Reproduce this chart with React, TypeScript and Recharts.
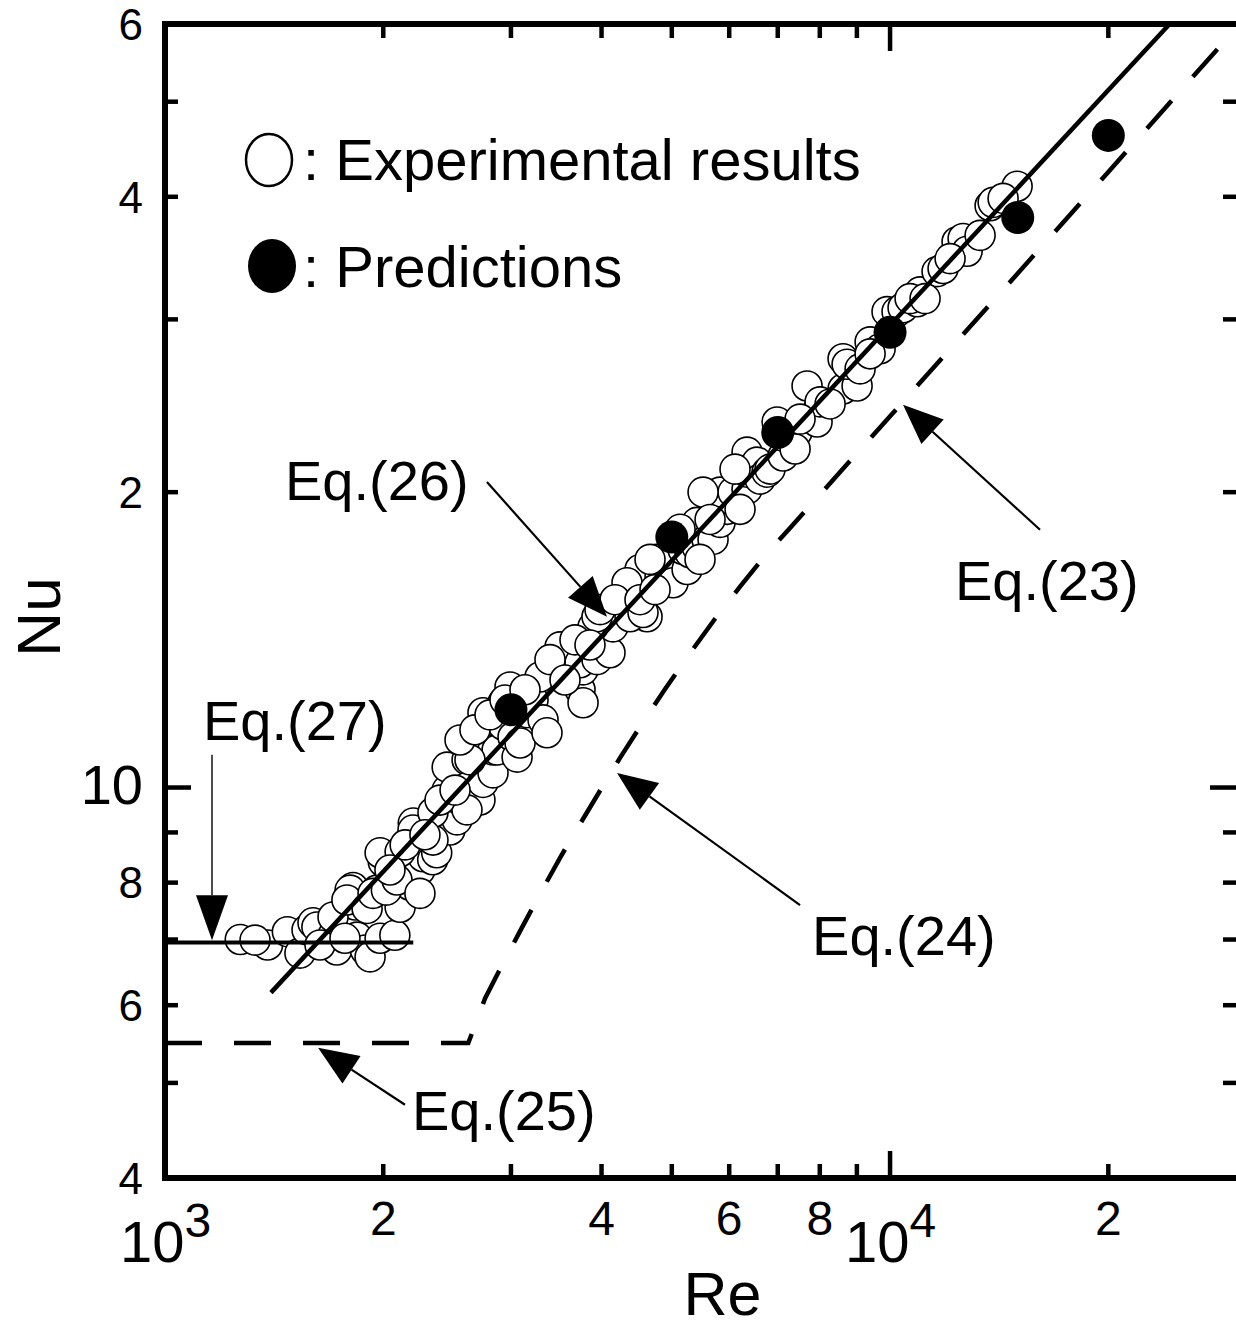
import React from 'react';
import {
  ComposedChart,
  XAxis,
  YAxis,
  Scatter,
  Line,
  ReferenceLine,
  ReferenceDot,
  Legend,
} from 'recharts';

const FONT = '"Liberation Sans", Arial, Helvetica, sans-serif';

// ---------- data (Re, Nu) ----------
const expRe = [
  1270, 1385, 1475, 1535, 1570, 1600, 1620, 1705, 1725, 1790, 1830, 1840, 1890, 1918, 1980, 2075,
  1817, 1800, 1960, 2000, 1980, 2090, 2110, 2130, 2177, 2200, 2247, 2200, 2247, 2270, 2340, 2340,
  2370, 2450, 2472, 2450, 2450, 2528, 2552, 2610, 2610, 2634, 2693, 2719, 2745, 2834, 2834, 2745,
  2871, 2926, 2991, 2926, 3020, 3059, 3088, 3158, 3218, 3322, 3364, 3290, 3540, 3506, 3736, 3772,
  3772, 3736, 3943, 4109, 4148, 3893, 3943, 3981, 4379, 4622, 4520, 4379, 4563, 4337, 4817, 4771,
  4925, 5020, 5249, 5182, 5298, 5417, 5417, 5592, 5700, 5773, 5828, 5959, 6016, 5828, 6074, 5522,
  6350, 6350, 6350, 6411, 6555, 6618, 6766, 6831, 6985, 7120, 7120, 7279, 7443, 7683, 7931, 7931,
  8007, 8614, 8614, 9006, 8724, 9386, 9689, 9905, 10225, 10422, 10896, 11000, 11610, 11834, 12372,
  12611, 12772, 13310, 13740, 13872, 14970, 1705, 1782, 1900, 1936, 2020, 2110, 2089, 2247, 2342,
  2198, 2342, 2609, 2043, 2144, 2283, 2395, 2512, 2634, 2552, 2676, 2807, 2944, 3137, 3396, 3562,
  3677, 3856, 4175, 4520, 4741, 4666, 5133, 5469, 5646, 6112, 6210, 7396, 7514, 8266, 9092, 9386,
  10656, 11176, 12100, 14319, 1331, 1636, 1771,
];
const expNu = [
  7.0, 6.91, 7.13, 6.78, 7.16, 7.28, 7.21, 7.07, 6.83, 7.33, 7.59, 7.04, 6.83, 6.72, 7.02, 7.07,
  7.91, 7.86, 7.86, 8.4, 8.58, 8.11, 7.55, 8.3, 7.95, 8.44, 8.24, 9.2, 8.7, 8.5, 9.27, 8.44,
  8.58, 9.49, 9.05, 9.94, 10.49, 9.27, 9.71, 10.67, 10.0, 9.71, 11.1, 9.71, 10.12, 10.35, 10.92, 11.92,
  10.92, 11.58, 12.66, 12.2, 11.26, 10.74, 11.1, 11.92, 12.28, 11.72, 11.37, 12.96, 13.5, 13.91, 12.58, 12.2,
  13.18, 13.4, 13.5, 13.72, 14.58, 14.58, 14.93, 15.18, 15.91, 14.93, 16.68, 14.93, 15.08, 16.17, 16.41, 17.08,
  17.08, 16.17, 16.68, 17.48, 17.35, 17.61, 18.63, 17.9, 17.9, 18.9, 18.63, 19.21, 19.67, 20.0, 20.0, 20.0,
  20.14, 20.96, 21.97, 21.11, 21.46, 20.62, 20.96, 21.11, 23.58, 21.77, 22.81, 22.81, 23.03, 25.66, 24.14, 23.58,
  24.72, 25.48, 27.35, 25.66, 27.0, 28.46, 28.0, 30.55, 30.55, 30.83, 31.27, 32.0, 33.56, 33.8, 36.0,
  36.27, 35.2, 36.54, 39.17, 39.48, 41.0, 7.38, 7.68, 7.53, 7.8, 7.86, 8.6, 8.05, 7.8, 8.84,
  9.05, 9.43, 9.49, 8.24, 8.74, 8.95, 9.71, 9.94, 10.67, 11.18, 11.45, 11.86, 12.28, 12.58, 13.5, 12.87,
  14.14, 13.97, 15.54, 15.54, 15.91, 17.08, 18.33, 17.08, 18.76, 21.11, 19.21, 22.13, 23.74, 24.6, 26.71, 27.67,
  31.5, 31.5, 34.6, 39.85, 6.99, 6.91, 7.02,
];

const predRe = [3000, 5000, 7000, 10000, 15000, 20000];
const predNu = [12.0, 18.0, 23.0, 29.1, 38.1, 46.2];

// Eq.(26): solid correlation line
const eq26Re = [1400, 24300];
const eq26Nu = [6.18, 60];
// Eq.(27): solid horizontal line
const eq27Re = [1000, 2200];
const eq27Nu = [6.95, 6.95];
// Eq.(25) + Eq.(24) + Eq.(23): dashed line
const eq25Re = [1000, 2620];
const eq25Nu = [5.49, 5.49];
const eq24Re = [2764, 2898, 3088, 3290, 3506, 3736, 3956, 4242, 4563, 4895, 5265, 5736, 6210, 6723, 7279];
const eq24Nu = [6.1, 6.53, 7.14, 7.79, 8.48, 9.18, 9.85, 10.72, 11.66, 12.6, 13.62, 14.86, 16.02, 17.23, 18.39];
const eq23Re = [10000, 20000, 30000];
const eq23Nu = [23.9, 42.4, 59.4];

// ---------- axes ----------
const xDomain = [1000, 30000];
const yDomain = [4, 60];
const xMinorTicks = [2000, 3000, 4000, 5000, 6000, 7000, 8000, 9000, 20000];
const xMajorTicks = [10000];
const yMinorTicks = [5, 6, 7, 8, 9, 20, 30, 40, 50];
const yMajorTicks = [10];
const xLabelValues = [1000, 2000, 4000, 6000, 8000, 10000, 20000];
const xLabelTexts = ['10', '2', '4', '6', '8', '10', '2'];
const xLabelSups = ['3', '', '', '', '', '4', ''];
const yLabelValues = [4, 6, 8, 10, 20, 40, 60];
const yLabelTexts = ['4', '6', '8', '10', '2', '4', '6'];

// ---------- annotations ----------
const annLabels = ['Eq.(26)', 'Eq.(27)', 'Eq.(25)', 'Eq.(24)', 'Eq.(23)'];
const annLabelRe = [1464, 1128, 2191, 7806, 12290];
const annLabelNu = [19.64, 11.18, 4.48, 6.75, 15.54];
const annTailRe = [2780, 1161, 2143, 7514, 16100];
const annTailNu = [20.48, 10.8, 4.75, 7.59, 18.31];
const annTipRe = [4070, 1161, 1626, 4202, 10420];
const annTipNu = [14.93, 6.99, 5.43, 10.35, 24.55];
const annShaftWidth = [2.2, 1.4, 2.2, 2.2, 2.2];

const zip = (xs: number[], ys: number[]) => xs.map((x, i) => ({ x, y: ys[i] }));

const expData = zip(expRe, expNu);
const predData = zip(predRe, predNu);
const eq26Data = zip(eq26Re, eq26Nu);
const eq27Data = zip(eq27Re, eq27Nu);
const dashedData = [...zip(eq25Re, eq25Nu), ...zip(eq24Re, eq24Nu), ...zip(eq23Re, eq23Nu)];

// ---------- renderers ----------
const OpenDot = (p: any) =>
  p.cx == null ? null : (
    <circle cx={p.cx} cy={p.cy} r={15} fill="#fff" stroke="#000" strokeWidth={1.6} />
  );
const FilledDot = (p: any) =>
  p.cx == null ? null : <circle cx={p.cx} cy={p.cy} r={16.5} fill="#000" />;

const XTick = (props: any) => {
  const { x, y, payload } = props;
  const i = xLabelValues.indexOf(payload.value);
  if (i < 0) return null;
  if (xLabelSups[i]) {
    return (
      <text x={x - 45} y={y + 84} fontSize={58} fontFamily={FONT} fill="#000">
        {xLabelTexts[i]}
        <tspan dy={-25} fontSize={48}>
          {xLabelSups[i]}
        </tspan>
      </text>
    );
  }
  return (
    <text x={x} y={y + 57} textAnchor="middle" fontSize={48} fontFamily={FONT} fill="#000">
      {xLabelTexts[i]}
    </text>
  );
};

const YTick = (props: any) => {
  const { x, y, payload } = props;
  const i = yLabelValues.indexOf(payload.value);
  if (i < 0) return null;
  const big = yLabelTexts[i] === '10';
  const fs = big ? 56 : 44;
  return (
    <text
      x={x - 22}
      y={y + fs * 0.36 - (big ? 4 : 0)}
      textAnchor="end"
      fontSize={fs}
      fontFamily={FONT}
      fill="#000"
    >
      {yLabelTexts[i]}
    </text>
  );
};

const vTickShape = (len: number) => (p: any) => {
  const top = Math.min(p.y1, p.y2);
  const bot = Math.max(p.y1, p.y2);
  return (
    <g>
      <line x1={p.x1} y1={top} x2={p.x1} y2={top + len} stroke="#000" strokeWidth={4.5} />
      <line x1={p.x1} y1={bot - len} x2={p.x1} y2={bot} stroke="#000" strokeWidth={4.5} />
    </g>
  );
};
const hTickShape = (len: number) => (p: any) => {
  const l = Math.min(p.x1, p.x2);
  const r = Math.max(p.x1, p.x2);
  return (
    <g>
      <line x1={l} y1={p.y1} x2={l + len} y2={p.y1} stroke="#000" strokeWidth={4.5} />
      <line x1={r - len} y1={p.y1} x2={r} y2={p.y1} stroke="#000" strokeWidth={4.5} />
    </g>
  );
};

const arrowShape = (sw: number, headLen: number, halfW: number) => (p: any) => {
  const { x1, y1, x2, y2 } = p;
  const dx = x2 - x1;
  const dy = y2 - y1;
  const len = Math.hypot(dx, dy) || 1;
  const ux = dx / len;
  const uy = dy / len;
  const bx = x2 - ux * headLen;
  const by = y2 - uy * headLen;
  const px = -uy;
  const py = ux;
  return (
    <g>
      <line x1={x1} y1={y1} x2={bx} y2={by} stroke="#000" strokeWidth={sw} />
      <polygon
        points={`${x2},${y2} ${bx + px * halfW},${by + py * halfW} ${bx - px * halfW},${by - py * halfW}`}
        fill="#000"
      />
    </g>
  );
};

const textShape = (t: string) => (p: any) =>
  p.cx == null ? null : (
    <text x={p.cx} y={p.cy} fontSize={56} fontFamily={FONT} fill="#000">
      {t}
    </text>
  );

const LegendContent = () => (
  <svg width={660} height={190} style={{ display: 'block', overflow: 'visible' }}>
    <ellipse cx={39} cy={40} rx={23} ry={26} fill="#fff" stroke="#000" strokeWidth={2.5} />
    <text x={73} y={60} fontSize={58} fontFamily={FONT} fill="#000">
      : Experimental results
    </text>
    <ellipse cx={42} cy={146} rx={24} ry={27} fill="#000" />
    <text x={73} y={167} fontSize={58} fontFamily={FONT} fill="#000">
      : Predictions
    </text>
  </svg>
);

const NuLabel = (p: any) => {
  const vb = p.viewBox || { x: 0, y: 24, width: 165, height: 1154 };
  const cx = vb.x + 38;
  const cy = vb.y + vb.height / 2 + 16;
  return (
    <text
      x={cx}
      y={cy}
      transform={`rotate(-90, ${cx}, ${cy})`}
      textAnchor="middle"
      dominantBaseline="central"
      fontSize={62}
      fontFamily={FONT}
      fill="#000"
    >
      Nu
    </text>
  );
};

const ReLabel = (p: any) => {
  const vb = p.viewBox || { x: 165, y: 1178, width: 1071, height: 150 };
  return (
    <text
      x={vb.x + vb.width / 2 + 22}
      y={vb.y + 137}
      textAnchor="middle"
      fontSize={61}
      fontFamily={FONT}
      fill="#000"
    >
      Re
    </text>
  );
};

export default function App() {
  return (
    <div
      style={{
        position: 'absolute',
        left: 0,
        top: 0,
        width: 1236,
        height: 1328,
        overflow: 'hidden',
        background: '#fff',
        fontFamily: FONT,
      }}
    >
      <ComposedChart width={1236} height={1328} margin={{ top: 24, right: 0, bottom: 0, left: 0 }}>
        <XAxis
          dataKey="x"
          type="number"
          scale="log"
          domain={xDomain}
          allowDataOverflow
          ticks={xLabelValues}
          interval={0}
          tickSize={0}
          tickMargin={0}
          tickLine={false}
          tick={<XTick />}
          height={150}
          axisLine={{ stroke: '#000', strokeWidth: 6, strokeLinecap: 'square' }}
          label={{ content: <ReLabel /> } as any}
        />
        <YAxis
          dataKey="y"
          type="number"
          scale="log"
          domain={yDomain}
          allowDataOverflow
          ticks={yLabelValues}
          interval={0}
          tickSize={0}
          tickMargin={0}
          tickLine={false}
          tick={<YTick />}
          width={165}
          axisLine={{ stroke: '#000', strokeWidth: 6, strokeLinecap: 'square' }}
          label={{ content: <NuLabel /> } as any}
        />

        {/* top axis line */}
        <ReferenceLine y={60} stroke="#000" strokeWidth={6} ifOverflow="visible" />

        {/* tick marks on all four sides */}
        {xMinorTicks.map((v) => (
          <ReferenceLine key={`xm${v}`} x={v} ifOverflow="visible" shape={vTickShape(14)} />
        ))}
        {xMajorTicks.map((v) => (
          <ReferenceLine key={`xM${v}`} x={v} ifOverflow="visible" shape={vTickShape(27)} />
        ))}
        {yMinorTicks.map((v) => (
          <ReferenceLine key={`ym${v}`} y={v} ifOverflow="visible" shape={hTickShape(13)} />
        ))}
        {yMajorTicks.map((v) => (
          <ReferenceLine key={`yM${v}`} y={v} ifOverflow="visible" shape={hTickShape(26)} />
        ))}

        <Scatter
          name="Experimental results"
          data={expData}
          shape={<OpenDot />}
          isAnimationActive={false}
          zIndex={350}
        />

        <Line
          data={dashedData}
          dataKey="y"
          type="linear"
          stroke="#000"
          strokeWidth={4.5}
          strokeDasharray="37 32"
          dot={false}
          activeDot={false}
          isAnimationActive={false}
          zIndex={450}
        />
        <Line
          data={eq27Data}
          dataKey="y"
          type="linear"
          stroke="#000"
          strokeWidth={4}
          dot={false}
          activeDot={false}
          isAnimationActive={false}
          zIndex={450}
        />
        <Line
          data={eq26Data}
          dataKey="y"
          type="linear"
          stroke="#000"
          strokeWidth={4.5}
          dot={false}
          activeDot={false}
          isAnimationActive={false}
          zIndex={450}
        />

        <Scatter
          name="Predictions"
          data={predData}
          shape={<FilledDot />}
          isAnimationActive={false}
          zIndex={600}
        />

        {annLabels.map((t, i) => (
          <ReferenceLine
            key={`arrow${i}`}
            segment={[
              { x: annTailRe[i], y: annTailNu[i] },
              { x: annTipRe[i], y: annTipNu[i] },
            ]}
            ifOverflow="visible"
            shape={arrowShape(annShaftWidth[i], i === 1 ? 45 : 40, i === 1 ? 16 : 16.5)}
            zIndex={700}
          />
        ))}
        {annLabels.map((t, i) => (
          <ReferenceDot
            key={`lab${i}`}
            x={annLabelRe[i]}
            y={annLabelNu[i]}
            r={0}
            ifOverflow="visible"
            shape={textShape(t)}
            zIndex={700}
          />
        ))}

        <Legend
          layout="vertical"
          align="center"
          verticalAlign="middle"
          wrapperStyle={{ left: 230, top: 120, width: 660, height: 190 }}
          content={<LegendContent />}
        />
      </ComposedChart>
    </div>
  );
}
